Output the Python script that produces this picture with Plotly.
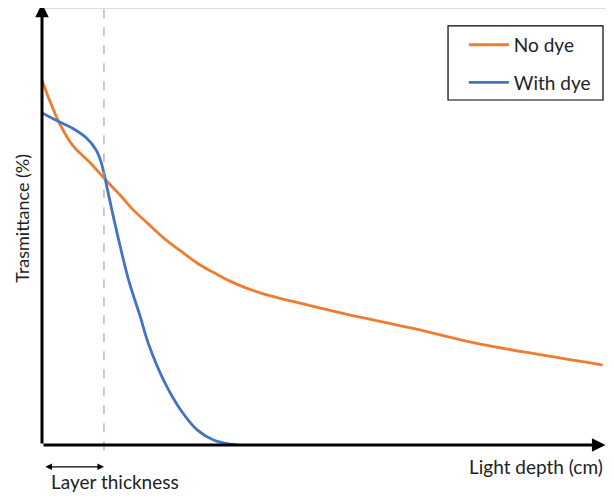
import plotly.graph_objects as go

# Data (x: light depth, arbitrary units 0-100; y: transmittance, arbitrary 0-100)
no_dye_x = [0, 1.40, 3.16, 5.44, 8.42, 11.40, 14.21, 15.96, 18.95, 21.93, 24.74, 27.72, 30.70,
            33.51, 36.49, 39.47, 45.26, 54.04, 65.79, 77.37, 89.12, 100]
no_dye_y = [83.5, 78.7, 73.5, 68.6, 64.8, 60.6, 56.8, 54.2, 50.6, 47.1, 44.4, 41.6, 39.4,
            37.5, 35.9, 34.6, 32.7, 30.0, 26.8, 23.3, 20.6, 18.3]

dye_x = [0, 3.16, 5.44, 7.89, 9.65, 10.53, 11.05, 11.58, 12.46, 13.68, 15.44, 17.54, 18.95,
         21.93, 24.74, 27.72, 30.70, 34.74]
dye_y = [76.0, 73.9, 72.5, 70.3, 67.5, 64.8, 62.2, 59.0, 53.8, 46.9, 37.8, 29.3, 23.3,
         14.2, 8.0, 3.4, 1.1, 0]

layer_thickness = 11.05

FONT = "Lato, Open Sans, sans-serif"
TXT = "#222222"

fig = go.Figure()
fig.add_trace(go.Scatter(x=no_dye_x, y=no_dye_y, mode="lines", name="No dye",
                         line=dict(color="#ED7D31", width=2.8, shape="spline", smoothing=1.1),
                         legendgroup="a"))
fig.add_trace(go.Scatter(x=dye_x, y=dye_y, mode="lines", name="With dye",
                         line=dict(color="#4472C4", width=2.8, shape="spline", smoothing=1.0),
                         legendgroup="b"))

# top light frame line
fig.add_shape(type="line", xref="paper", yref="paper", x0=0, x1=1.0, y0=1.0, y1=1.0,
              line=dict(color="#d0d0d0", width=1.5))
# dashed layer line
fig.add_shape(type="line", xref="x", yref="paper", x0=layer_thickness, x1=layer_thickness,
              y0=-0.012, y1=1, line=dict(color="#a8a8a8", width=1.2, dash="dash"))
# legend frame
fig.add_shape(type="rect", xref="paper", yref="paper", x0=0.7199, x1=0.9947, y0=0.7895, y1=0.959,
              line=dict(color="black", width=1.2), fillcolor="white", layer="below")

# axes with arrows
fig.add_annotation(x=0, y=101, ax=0, ay=0, xref="x", yref="y", axref="x", ayref="y",
                   showarrow=True, arrowhead=2, arrowsize=0.9, arrowwidth=3, arrowcolor="black", text="")
fig.add_annotation(x=100.5, y=0, ax=0, ay=0, xref="x", yref="y", axref="x", ayref="y",
                   showarrow=True, arrowhead=2, arrowsize=0.9, arrowwidth=3, arrowcolor="black", text="")

# layer thickness double arrow
fig.add_annotation(x=layer_thickness, y=-0.050, ax=0.35, ay=0, xref="x", yref="paper",
                   axref="x", ayref="pixel",
                   showarrow=True, arrowhead=2, startarrowhead=2, arrowside="end+start",
                   arrowsize=1, arrowwidth=1.3, arrowcolor="black", text="")
fig.add_annotation(x=0.129, y=-0.083, xref="paper", yref="paper", text="Layer thickness", showarrow=False,
                   font=dict(family=FONT, size=19, color=TXT), xanchor="center", yanchor="middle")
fig.add_annotation(x=0.998, y=-0.050, xref="paper", yref="paper", text="Light depth (cm)", showarrow=False,
                   font=dict(family=FONT, size=19, color=TXT), xanchor="right", yanchor="middle")
fig.add_annotation(x=-0.0355, y=0.52, xref="paper", yref="paper", text="Trasmittance (%)", showarrow=False,
                   textangle=-90, font=dict(family=FONT, size=18, color=TXT),
                   xanchor="center", yanchor="middle")

fig.update_layout(
    width=598, height=484,
    margin=dict(l=34, r=0, t=0, b=47),
    paper_bgcolor="white", plot_bgcolor="white",
    xaxis=dict(range=[0, 100.6], visible=False),
    yaxis=dict(range=[0, 100], visible=False),
    showlegend=True,
    legend=dict(x=0.748, y=0.959, xanchor="left", yanchor="top",
                borderwidth=0, bgcolor="rgba(0,0,0,0)",
                font=dict(family=FONT, size=19, color=TXT),
                tracegroupgap=10, itemwidth=40),
    font=dict(family=FONT),
)

fig.write_html("out.html")
